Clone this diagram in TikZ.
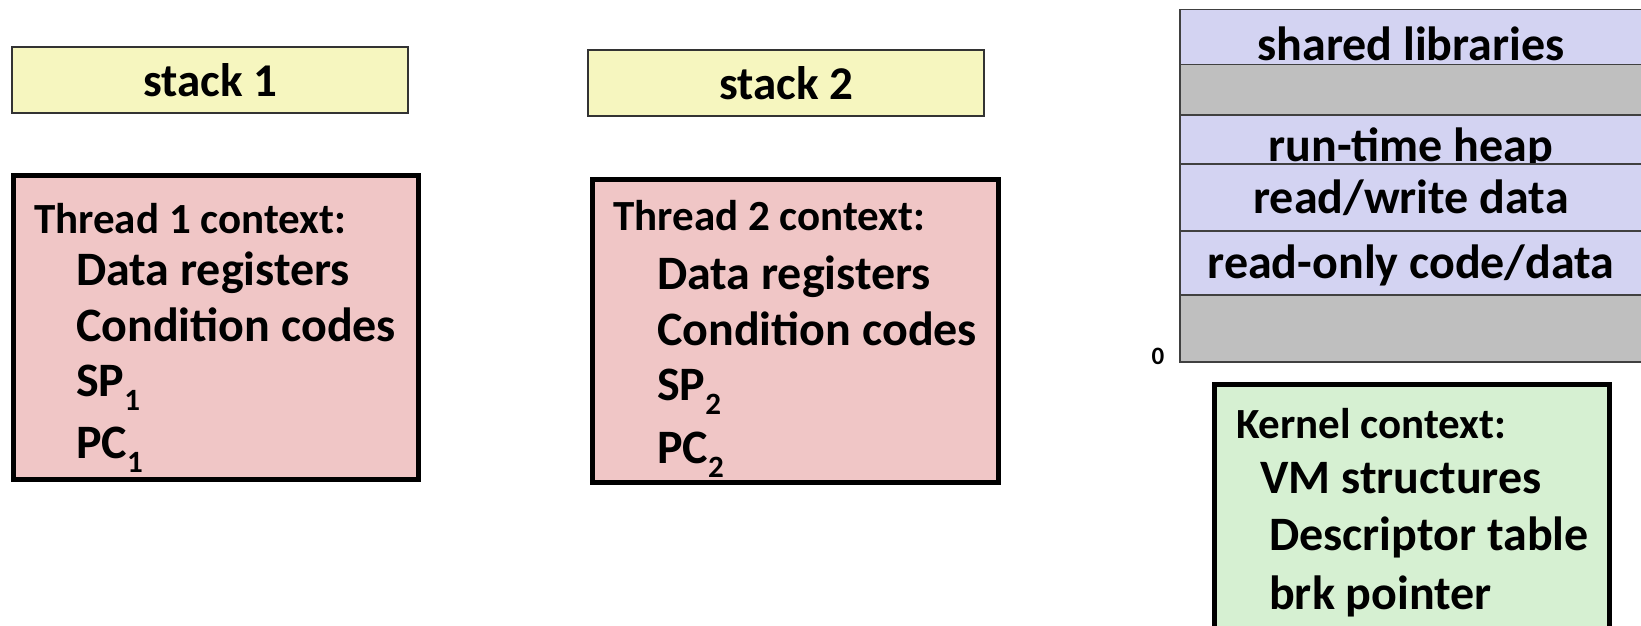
\documentclass[tikz,border=0pt]{standalone}
\usepackage{fontspec}
\setmainfont{Carlito}
\definecolor{stackyellow}{RGB}{246,246,191}
\definecolor{threadpink}{RGB}{240,198,198}
\definecolor{memblue}{RGB}{211,211,242}
\definecolor{memgray}{RGB}{191,191,191}
\definecolor{kerngreen}{RGB}{214,240,210}
\newcommand{\subs}[1]{\raisebox{-14pt}{\fontsize{31}{31}\selectfont #1}}
\tikzset{
  stackbox/.style={draw=black!80, line width=1.5pt, fill=stackyellow, inner sep=0pt,
    minimum width=396pt, minimum height=66pt, font=\bfseries\fontsize{47}{47}\selectfont},
  ctxbox/.style={draw=black, line width=5pt, inner sep=0pt},
  hdr/.style={anchor=base west, inner sep=0pt, font=\bfseries\fontsize{43}{43}\selectfont},
  item/.style={anchor=base west, inner sep=0pt, font=\bfseries\fontsize{48}{48}\selectfont},
  memrow/.style={draw=black!75, line width=1.5pt},
  memtxt/.style={anchor=base, inner sep=0pt, font=\bfseries\fontsize{48}{48}\selectfont},
}
\begin{document}
\begin{tikzpicture}[x=1pt,y=-1pt]
\useasboundingbox (0,0) rectangle (1641,626);
% stacks
\node[stackbox] (s1) at (210,80) {stack 1};
\node[stackbox] (s2) at (786,83) {stack 2};
% thread 1
\node[ctxbox, fill=threadpink, minimum width=405pt, minimum height=304pt] (t1) at (216,327.5) {};
\node[hdr] (t1h) at (34,233) {Thread 1 context:};
\node[item] (t1a) at (76,285) {Data registers};
\node[item] (t1b) at (76,341) {Condition codes};
\node[item] (t1c) at (76,396) {SP\subs{1}};
\node[item] (t1d) at (76,458) {PC\subs{1}};
% thread 2
\node[ctxbox, fill=threadpink, minimum width=406pt, minimum height=303pt] (t2) at (795.5,331) {};
\node[hdr] (t2h) at (613,230) {Thread 2 context:};
\node[item] (t2a) at (657,289) {Data registers};
\node[item] (t2b) at (657,345) {Condition codes};
\node[item] (t2c) at (657,400) {SP\subs{2}};
\node[item] (t2d) at (657,463) {PC\subs{2}};
% memory column
\draw[memrow, fill=memblue] (1180,9.5) rectangle (1660,64.5);
\node[memtxt] (m1) at (1411,61) {shared libraries};
\draw[memrow, fill=memgray] (1180,64.5) rectangle (1660,115);
\draw[memrow, fill=memblue] (1180,115) rectangle (1660,164);
\node[memtxt] (m3) at (1411,161) {run-time heap};
\draw[memrow, fill=memblue] (1180,164) rectangle (1660,231);
\node[memtxt] (m4) at (1411,213) {read/write data};
\draw[memrow, fill=memblue] (1180,231) rectangle (1660,295);
\node[memtxt] (m5) at (1411,278) {read-only code/data};
\draw[memrow, fill=memgray] (1180,295) rectangle (1660,362);
\node[font=\bfseries\fontsize{25}{25}\selectfont, inner sep=0pt] (zero) at (1158,356) {0};
% kernel
\node[ctxbox, fill=kerngreen, minimum width=395pt, minimum height=275pt] (k) at (1412,522) {};
\node[hdr] (kh) at (1236,438) {Kernel context:};
\node[item] (ka) at (1260,493) {VM structures};
\node[item] (kb) at (1269,550) {Descriptor table};
\node[item] (kc) at (1269,609) {brk pointer};
\end{tikzpicture}
\end{document}
